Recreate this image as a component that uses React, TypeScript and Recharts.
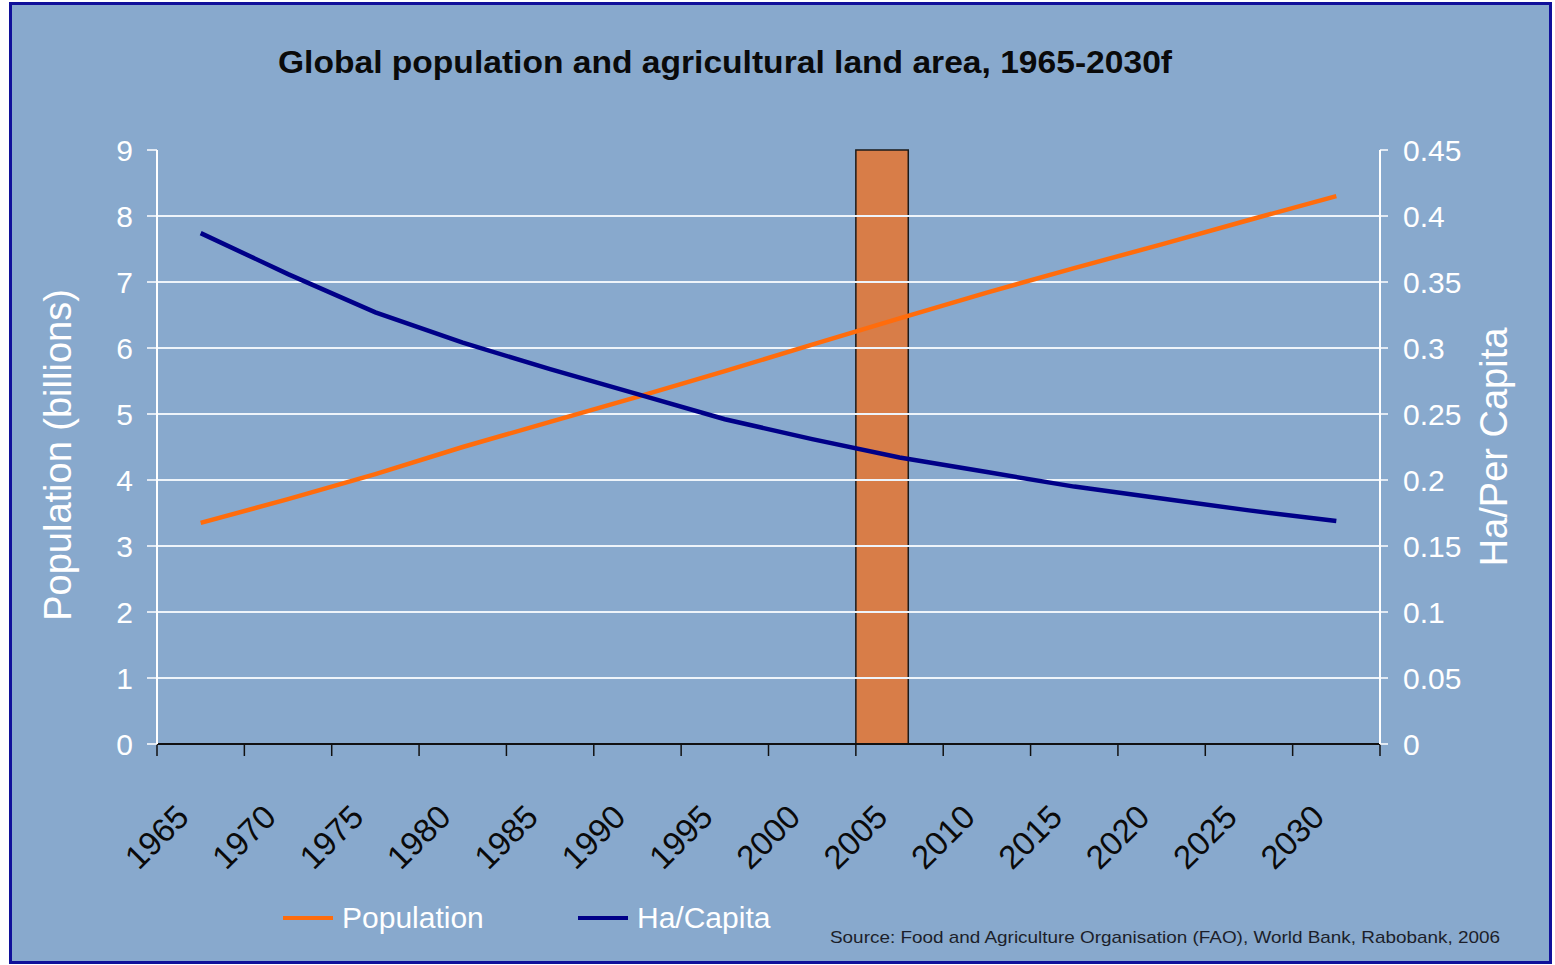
import React from 'react';
import { ComposedChart, Line, XAxis, YAxis, ReferenceLine, ReferenceArea, Legend } from 'recharts';

// 5-year periods (category labels)
const categories = [1965, 1970, 1975, 1980, 1985, 1990, 1995, 2000, 2005, 2010, 2015, 2020, 2025, 2030];
// Global population, billions (left axis)
const population = [3.35, 3.71, 4.09, 4.5, 4.88, 5.26, 5.65, 6.05, 6.45, 6.84, 7.21, 7.57, 7.94, 8.3];
// Agricultural land, hectares per capita (right axis)
const haPerCapita = [0.387, 0.356, 0.327, 0.304, 0.284, 0.265, 0.246, 0.231, 0.217, 0.206, 0.195, 0.186, 0.177, 0.169];

const leftTicks = [0, 1, 2, 3, 4, 5, 6, 7, 8, 9];
const rightTicks = [0, 0.05, 0.1, 0.15, 0.2, 0.25, 0.3, 0.35, 0.4, 0.45];
const gridValues = [1, 2, 3, 4, 5, 6, 7, 8];
const boundaryTicks = [1965, 1970, 1975, 1980, 1985, 1990, 1995, 2000, 2005, 2010, 2015, 2020, 2025, 2030, 2035];
const legendOrder = ['Population', 'Ha/Capita'];
const highlightStart = 2005;
const highlightEnd = 2008;
const highlightTop = 9;

const PERIOD = 5;
const midpoints = categories.map((c) => c + PERIOD / 2);
const data = categories.map((c, i) => ({ x: c + PERIOD / 2, population: population[i], ha: haPerCapita[i] }));

const FONT = 'Liberation Sans, Arial, Helvetica, sans-serif';
const BG = '#88A9CD';

const YearTick = (props: any) => {
  const { x, y, payload } = props;
  const lx = x - 10;
  const ly = y + 63;
  return (
    <text
      x={lx}
      y={ly}
      transform={`rotate(-45 ${lx} ${ly})`}
      textAnchor="end"
      fill="#0a0a0a"
      fontSize={33}
      fontFamily={FONT}
    >
      {payload.value - PERIOD / 2}
    </text>
  );
};

const LegendContent = (props: any) => {
  const payload = [...(props.payload || [])].sort(
    (a: any, b: any) => legendOrder.indexOf(a.value) - legendOrder.indexOf(b.value)
  );
  return (
    <div style={{ display: 'flex', height: 40, alignItems: 'center' }}>
      {payload.map((p: any) => (
        <div key={p.value} style={{ width: 295, display: 'flex', alignItems: 'center' }}>
          <div style={{ width: 50, height: 4, background: p.color, marginRight: 9 }} />
          <span style={{ color: '#ffffff', fontSize: 30, fontFamily: FONT, lineHeight: '40px' }}>{p.value}</span>
        </div>
      ))}
    </div>
  );
};

export default function App() {
  return (
    <div style={{ position: 'absolute', left: 0, top: 0, width: 1555, height: 965, background: '#ffffff', overflow: 'hidden' }}>
      <div
        style={{
          position: 'absolute',
          left: 9,
          top: 2,
          width: 1543,
          height: 962,
          boxSizing: 'border-box',
          border: '3px solid #10109a',
          background: BG,
        }}
      />
      <div style={{ position: 'absolute', left: 0, top: 0 }}>
        <ComposedChart width={1555} height={965} data={data} margin={{ top: 150, right: 25, bottom: 89, left: 37 }}>
          <XAxis
            xAxisId="a"
            type="number"
            dataKey="x"
            domain={[boundaryTicks[0], boundaryTicks[boundaryTicks.length - 1]]}
            allowDataOverflow
            ticks={boundaryTicks}
            interval={0}
            height={12}
            axisLine={{ stroke: '#111111', strokeWidth: 2 }}
            tickLine={{ stroke: '#111111', strokeWidth: 1.5 }}
            tickSize={12}
            tickFormatter={() => ''}
          />
          <XAxis
            xAxisId="b"
            type="number"
            dataKey="x"
            domain={[boundaryTicks[0], boundaryTicks[boundaryTicks.length - 1]]}
            allowDataOverflow
            ticks={midpoints}
            interval={0}
            height={120}
            axisLine={false}
            tickLine={false}
            tickSize={0}
            tickMargin={0}
            tick={<YearTick />}
          />
          <YAxis
            yAxisId="left"
            domain={[0, 9]}
            ticks={leftTicks}
            interval={0}
            width={120}
            axisLine={{ stroke: '#ffffff', strokeWidth: 2 }}
            tickLine={{ stroke: '#ffffff', strokeWidth: 1.5 }}
            tickSize={10}
            tickMargin={14}
            tick={{ fill: '#ffffff', fontSize: 30, fontFamily: FONT }}
            label={{
              value: 'Population (billions)',
              angle: -90,
              position: 'insideLeft',
              offset: 21,
              dy: 8,
              style: { textAnchor: 'middle', fill: '#ffffff', fontSize: 38, fontFamily: FONT },
            }}
          />
          <YAxis
            yAxisId="right"
            orientation="right"
            domain={[0, 0.45]}
            ticks={rightTicks}
            interval={0}
            width={150}
            axisLine={{ stroke: '#ffffff', strokeWidth: 2 }}
            tickLine={{ stroke: '#ffffff', strokeWidth: 1.5 }}
            tickSize={8}
            tickMargin={15}
            tickFormatter={(v: number) => String(+v.toFixed(2))}
            tick={{ fill: '#ffffff', fontSize: 30, fontFamily: FONT }}
            label={{
              value: 'Ha/Per Capita',
              angle: -90,
              position: 'insideRight',
              offset: 36,
              style: { textAnchor: 'middle', fill: '#ffffff', fontSize: 38, fontFamily: FONT },
            }}
          />
          {gridValues.map((v) => (
            <ReferenceLine key={v} yAxisId="left" xAxisId="a" y={v} stroke="#eef4fa" strokeWidth={2} />
          ))}
          <Line
            xAxisId="a"
            yAxisId="left"
            type="linear"
            dataKey="population"
            name="Population"
            stroke="#ff6c0c"
            strokeWidth={4.5}
            dot={false}
            isAnimationActive={false}
          />
          <Line
            xAxisId="a"
            yAxisId="right"
            type="linear"
            dataKey="ha"
            name="Ha/Capita"
            stroke="#000088"
            strokeWidth={4.5}
            dot={false}
            isAnimationActive={false}
          />
          <ReferenceArea
            xAxisId="a"
            yAxisId="left"
            x1={highlightStart}
            x2={highlightEnd}
            y1={0}
            y2={highlightTop}
            fill="#e37635"
            fillOpacity={0.88}
            stroke="#1a1a1a"
            strokeWidth={1.5}
            ifOverflow="visible"
          />
          <Legend
            layout="horizontal"
            verticalAlign="middle"
            align="center"
            content={<LegendContent />}
            wrapperStyle={{ top: 898, left: 283, width: 600, height: 40 }}
          />
        </ComposedChart>
      </div>
      <svg width={1555} height={965} style={{ position: 'absolute', left: 0, top: 0, pointerEvents: 'none' }}>
        <text
          x={278}
          y={73}
          fontFamily={FONT}
          fontWeight="bold"
          fontSize={31}
          fill="#0a0a0a"
          textLength={894}
          lengthAdjust="spacingAndGlyphs"
        >
          Global population and agricultural land area, 1965-2030f
        </text>
        <text
          x={830}
          y={943}
          fontFamily={FONT}
          fontSize={17}
          fill="#1c1f2a"
          textLength={670}
          lengthAdjust="spacingAndGlyphs"
        >
          Source: Food and Agriculture Organisation (FAO), World Bank, Rabobank, 2006
        </text>
      </svg>
    </div>
  );
}
